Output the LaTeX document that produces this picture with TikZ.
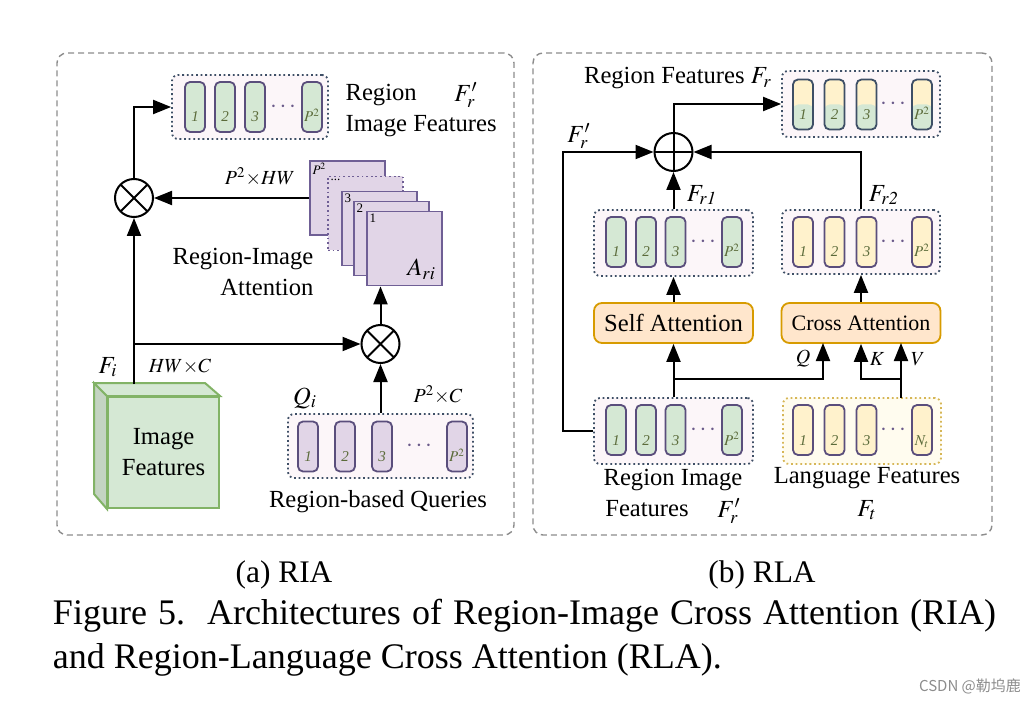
\documentclass[tikz,border=0pt]{standalone}
\usepackage{mathptmx}
\usepackage{fontspec}
\setmainfont{Liberation Serif}
\newfontfamily\cjk{Noto Sans CJK SC}
\usetikzlibrary{arrows.meta}

\definecolor{grn}{HTML}{D5E8D4}
\definecolor{grnside}{HTML}{C4D4C2}
\definecolor{cubeline}{HTML}{82B366}
\definecolor{purp}{HTML}{E1D5E7}
\definecolor{attline}{HTML}{6F5F95}
\definecolor{yel}{HTML}{FFF2CC}
\definecolor{attn}{HTML}{D79B00}
\definecolor{attnfill}{HTML}{FFE6CC}
\definecolor{langline}{HTML}{D6B656}
\definecolor{langfill}{HTML}{FFFCEF}
\definecolor{rowline}{HTML}{3E4F66}
\definecolor{rowfill}{HTML}{FCF6F9}
\definecolor{tokline}{HTML}{5A4E7C}
\definecolor{toktext}{HTML}{5B6B3A}
\definecolor{dotcol}{HTML}{6A5A8A}
\definecolor{pnlline}{HTML}{8C8C8C}

\newcommand{\dgmfont}{\fontsize{12.3}{15.5}\selectfont}
\newcommand{\tokfont}{\fontsize{7.5}{8}\selectfont\itshape}
\newcommand{\lblfont}{\fontsize{10}{12}\selectfont}
\newcommand{\tokl}[1]{\raisebox{-7.5pt}[0pt][0pt]{#1}}

\begin{document}
\begin{tikzpicture}
	[x=0.5pt, y=-0.5pt, line width=1pt, >={Triangle[length=9pt,width=7pt]},
	every node/.style={font=\dgmfont},
	panel/.style={draw=pnlline, dash pattern=on 3pt off 2pt, line width=0.7pt, rounded corners=5pt},
	tokrow/.style={draw=rowline, fill=rowfill, dash pattern=on 0.9pt off 1.4pt, line width=0.9pt, rounded corners=3pt, inner sep=0pt},
	tok/.style={draw=tokline, rounded corners=2.5pt, minimum width=10pt, minimum height=25pt, inner sep=0pt, line width=0.9pt, font=\tokfont, text=toktext},
	tokdots/.style={text=dotcol, inner sep=0pt},
	att/.style={draw=attline, fill=purp, minimum width=37.5pt, minimum height=37pt, line width=0.9pt},
	sqlbl/.style={anchor=north west, inner sep=1.2pt, font=\fontsize{6.5}{7}\selectfont},
	opnode/.style={circle, draw, minimum size=19pt, inner sep=0pt, line width=1pt},
	otimesnode/.style={opnode, path picture={\draw (path picture bounding box.north west) -- (path picture bounding box.south east) (path picture bounding box.north east) -- (path picture bounding box.south west);}},
	oplusnode/.style={opnode, path picture={\draw (path picture bounding box.north) -- (path picture bounding box.south) (path picture bounding box.west) -- (path picture bounding box.east);}},
	attbox/.style={draw=attn, fill=attnfill, rounded corners=4pt, minimum width=79.5pt, minimum height=20pt, line width=0.9pt, inner sep=0pt},
	lbl/.style={font=\lblfont, inner sep=0pt}]
	\useasboundingbox (0,0) rectangle (1035,701);
	\node[panel, minimum width=228.5pt, minimum height=241pt] (pnla) at (285.5,294) {};
	\node[panel, minimum width=229.5pt, minimum height=241pt] (pnlb) at (762.5,294) {};

	% (a) RIA
	\node[tokrow, minimum width=78pt, minimum height=32pt] (rif) at (250,107) {};
	\foreach \x/\lab [count=\i] in {195/1,225/2,255/3,312/$P^2$}
		\node[tok, fill=grn] (rif\i) at (\x,107) {\tokl{\lab}};
	\node[tokdots] (rifd) at (283,107) {$\cdots$};
	\node[anchor=west, align=left] (ria) at (338,111) {Region\\Image Features};
	\node (fpra) at (466,95) {$F'_r$};

	\node[otimesnode] (otimes1) at (134,198) {};
	\node[otimesnode] (otimes2) at (380.5,344) {};

	\node[att, label={[sqlbl]north west:$P^2$}] (att0) at (347.5,198) {};
	\node[att, dash pattern=on 0.9pt off 1.4pt, label={[sqlbl]north west:...}] (attd) at (365.5,213.5) {};
	\node[att, label={[sqlbl]north west:3}] (att3) at (379.5,228.5) {};
	\node[att, label={[sqlbl]north west:2}] (att2) at (391.5,238.5) {};
	\node[att, label={[sqlbl]north west:1}, label={[anchor=south east, inner sep=3pt]south east:$A_{ri}$}] (att1) at (404.5,248.5) {};
	\node[lbl] (p2hw) at (260,177) {$P^2{\times}HW$};
	\node[align=right, anchor=east] (riatt) at (321,272) {Region-Image\\Attention};

	\node[draw=cubeline, fill=grn, minimum width=55.5pt, minimum height=55.5pt, align=center] (imgf) at (163.5,452.5) {Image\\Features};
	\filldraw[draw=cubeline, fill=grnside] (imgf.north west) -- ++(-13,-13) -- ++(0,111) -- (imgf.south west) -- cycle;
	\filldraw[draw=cubeline, fill=grn] (imgf.north west) -- ++(-13,-13) -- ++(111,0) -- (imgf.north east) -- cycle;
	\coordinate (fitop) at (134,384);
	\node (fi) at (108,367) {$F_i$};
	\node[lbl] (hwc) at (180,367) {$HW{\times}C$};

	\node[tokrow, minimum width=92.5pt, minimum height=32pt] (qry) at (380.5,446) {};
	\foreach \x/\lab [count=\i] in {308/1,345/2,382/3,457/$P^2$}
		\node[tok, fill=purp] (qry\i) at (\x,446.5) {\tokl{\lab}};
	\node[tokdots] (qryd) at (419,446.5) {$\cdots$};
	\node (qi) at (305,398) {$Q_i$};
	\node[lbl] (p2c) at (438,395) {$P^2{\times}C$};
	\node (rbq) at (378,502) {Region-based Queries};

	\draw [->] (fitop) -- (otimes1);
	\draw [->] (otimes1) |- (rif);
	\draw [->] (att0) -- (otimes1);
	\draw [->] (fitop |- otimes2) -- (otimes2);
	\draw [->] (qry) -- (otimes2);
	\draw [->] (otimes2) -- (otimes2 |- att1.south);

	% (b) RLA
	\node[tokrow, minimum width=79pt, minimum height=33pt] (fr) at (861,104) {};
	\foreach \x/\lab [count=\i] in {803/1,834.5/2,866.5/3,922/$P^2$}
		\node[tok, draw=rowline, fill=yel, path picture={\fill[grn] (path picture bounding box.west) rectangle (path picture bounding box.south east);}] (fr\i) at (\x,104.5) {\tokl{\lab}};
	\node[tokdots] (frd) at (893,104.5) {$\cdots$};
	\node (rft) at (678,78) {Region Features $F_r$};

	\node[oplusnode] (oplus) at (673.5,152) {};
	\node (fprb) at (579,136) {$F'_r$};

	\node[tokrow, minimum width=79.5pt, minimum height=33pt] (fra) at (673.5,243) {};
	\foreach \x/\lab [count=\i] in {616/1,646/2,675.5/3,732/$P^2$}
		\node[tok, fill=grn] (fra\i) at (\x,242) {\tokl{\lab}};
	\node[tokdots] (frad) at (703,242) {$\cdots$};
	\node (fral) at (702,195) {$F_{r\mathit{1}}$};

	\node[tokrow, minimum width=79pt, minimum height=32pt] (frb) at (861,242) {};
	\foreach \x/\lab [count=\i] in {803/1,834.5/2,866.5/3,922/$P^2$}
		\node[tok, fill=yel] (frb\i) at (\x,242) {\tokl{\lab}};
	\node[tokdots] (frbd) at (893,242) {$\cdots$};
	\node (frbl) at (884,195) {$F_{r\mathit{2}}$};

	\node[attbox] (sa) at (673.5,323) {Self Attention};
	\node[attbox, font=\fontsize{11}{13}\selectfont] (ca) at (861,323) {Cross Attention};

	\node[tokrow, minimum width=79.5pt, minimum height=33pt] (rimg) at (673.5,431) {};
	\foreach \x/\lab [count=\i] in {616/1,646/2,675.5/3,732/$P^2$}
		\node[tok, fill=grn] (rimg\i) at (\x,430) {\tokl{\lab}};
	\node[tokdots] (rimgd) at (703,430) {$\cdots$};
	\node (rimgl) at (673,480) {Region Image};
	\node (rimgf) at (647,509) {Features};
	\node (fprc) at (729,511) {$F'_r$};

	\node[tokrow, draw=langline, fill=langfill, minimum width=79pt, minimum height=33pt] (lang) at (862,431) {};
	\foreach \x/\lab [count=\i] in {803/1,834.5/2,866.5/3,922/$N_t$}
		\node[tok, fill=yel] (lang\i) at (\x,430) {\tokl{\lab}};
	\node[tokdots] (langd) at (893,430) {$\cdots$};
	\node (langl) at (867,478) {Language Features};
	\node (ft) at (867,510) {$F_t$};

	\coordinate (qsplit) at (673.5,379);
	\coordinate (qin) at (823,343);
	\coordinate (vout) at (901,398);
	\coordinate (vin) at (901,343);
	\coordinate (ksplit) at (901,379);
	\node[lbl] (ql) at (803,359) {$Q$};
	\node[lbl] (kl) at (877,359) {$K$};
	\node[lbl] (vl) at (918,359) {$V$};

	\draw [->] (oplus) |- (fr);
	\draw [->] (rimg.west) -- ++(-30,0) |- (oplus);
	\draw [->] (frb) |- (oplus);
	\draw [->] (fra) -- (oplus);
	\draw [->] (sa) -- (fra);
	\draw [->] (ca) -- (frb);
	\draw [->] (rimg) -- (sa);
	\draw [->] (qsplit) -| (qin);
	\draw [->] (vout) -- (vin);
	\draw [->] (ksplit) -| (ca.south);

	% captions
	\node[font=\fontsize{15.7}{18}\selectfont] (capa) at (284,575) {(a) RIA};
	\node[font=\fontsize{15.7}{18}\selectfont] (capb) at (762,575) {(b) RLA};
	\node[anchor=west, inner sep=0pt, font=\fontsize{18}{22}\selectfont] (capl1) at (52,616) {\makebox[471.5pt][s]{Figure 5.\ \ Architectures of Region-Image Cross Attention (RIA)}};
	\node[anchor=west, inner sep=0pt, font=\fontsize{18}{22}\selectfont] (capl2) at (52,660) {and Region-Language Cross Attention (RLA).};
	\node[text=pnlline, font=\fontsize{7.5}{9}\selectfont] (wm) at (970,686) {\cjk CSDN @勒坞鹿};
\end{tikzpicture}
\end{document}
